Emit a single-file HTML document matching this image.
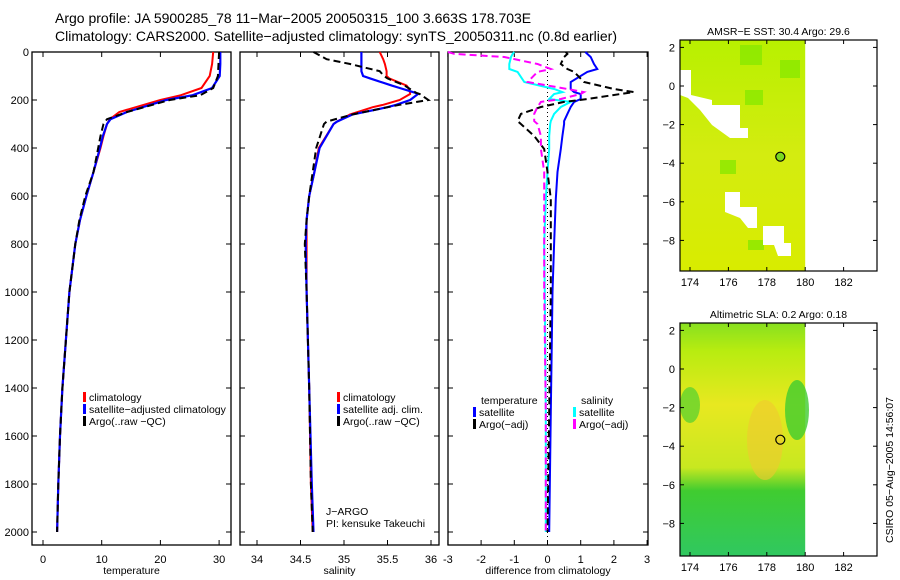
<!DOCTYPE html>
<html><head><meta charset="utf-8"><style>
html,body{margin:0;padding:0;background:#fff;}
svg{display:block;font-family:"Liberation Sans","DejaVu Sans",sans-serif;}
</style></head><body>
<svg id="fig" width="900" height="580" viewBox="0 0 900 580" xmlns="http://www.w3.org/2000/svg">
<text x="55" y="23" font-size="14">Argo profile: JA 5900285_78 11−Mar−2005 20050315_100 3.663S 178.703E</text>
<text x="55" y="41" font-size="14">Climatology: CARS2000. Satellite−adjusted climatology: synTS_20050311.nc (0.8d earlier)</text>
<g id="plots"></g>
</svg>
<script>
// ---- data ----
const depthTicks=[0,200,400,600,800,1000,1200,1400,1600,1800,2000];
const tempTicks=[0,10,20,30];
const salTicks=[34,34.5,35,35.5,36];
const salTickLabels=["34","34.5","35","35.5","36"];
const diffTicks=[-3,-2,-1,0,1,2,3];
const tDepth=[0,50,100,150,180,200,250,280,300,350,400,500,600,700,800,1000,1200,1400,1600,1800,2000];
const tClim=[29.0,28.8,28.4,27.0,23.5,20.0,13.0,11.4,10.9,10.3,9.8,8.6,7.4,6.3,5.5,4.5,3.9,3.3,2.9,2.6,2.4];
const tSat=[30.2,30.2,30.1,28.8,25.5,21.0,14.3,11.5,10.9,10.2,9.7,8.6,7.4,6.3,5.5,4.5,3.9,3.3,2.9,2.6,2.4];
const tArgo=[30.0,29.9,29.8,29.0,26.8,21.6,14.3,10.9,10.3,9.8,9.4,8.6,7.2,6.2,5.5,4.5,3.9,3.3,2.9,2.6,2.4];
const sDepth=[0,30,50,80,100,110,140,150,170,175,200,220,230,260,290,300,400,500,600,700,800,1000,1400,1800,2000];
const sClim=[35.41,35.45,35.47,35.49,35.49,35.52,35.72,35.74,35.76,35.76,35.64,35.45,35.33,35.07,34.92,34.88,34.71,34.66,34.6,34.57,34.57,34.57,34.6,34.62,34.64];
const sSat=[35.2,35.2,35.2,35.2,35.22,35.3,35.55,35.64,35.82,35.85,35.76,35.6,35.5,35.1,34.92,34.88,34.72,34.66,34.6,34.57,34.56,34.57,34.6,34.63,34.65];
const sArgo=[34.65,34.8,35.07,35.41,35.46,35.5,35.7,35.74,35.83,35.87,35.97,35.64,35.5,35.1,34.8,34.77,34.68,34.64,34.6,34.57,34.55,34.57,34.6,34.62,34.64];
const dDepth=[0,8,21,50,71,83,125,154,167,175,196,208,229,258,288,300,350,404,500,612,800,1000,1500,2000];
const dTempSat=[1.14,1.2,1.3,1.4,1.5,1.2,0.7,0.7,0.8,1.0,1.0,0.8,0.7,0.6,0.5,0.5,0.45,0.4,0.3,0.25,0.2,0.15,0.1,0.05];
const dTempArgo=[0.55,0.6,0.5,0.4,0.6,0.8,1.1,2.0,2.6,2.2,1.2,0.5,-0.2,-0.8,-0.9,-0.8,-0.4,-0.1,0.0,0.1,0.1,0.1,0.05,0.0];
const dSalSat=[-1.0,-1.05,-1.1,-1.15,-1.15,-0.9,-0.7,0.2,0.45,0.2,0.05,0.7,0.4,0.2,0.1,0.08,0.05,0.05,0.0,-0.05,-0.1,-0.08,-0.05,-0.05];
const dSalArgo=[-3.0,-2.8,-1.3,-0.3,0.1,-0.3,-0.6,0.6,1.1,1.0,0.4,-0.2,-0.3,-0.4,-0.4,-0.3,-0.2,-0.2,-0.1,-0.1,-0.1,-0.1,-0.05,-0.05];
const mapXTicks=[174,176,178,180,182];
const mapYTicks=[2,0,-2,-4,-6,-8];
const argoLon=178.703, argoLat=-3.663;

const NS="http://www.w3.org/2000/svg";
const root=document.getElementById('plots');
function el(tag,attrs,parent){const e=document.createElementNS(NS,tag);for(const k in attrs)e.setAttribute(k,attrs[k]);(parent||root).appendChild(e);return e;}
function txt(x,y,s,size,anchor,parent){const t=el('text',{x:x,y:y,'font-size':size,'text-anchor':anchor||'start'},parent);t.textContent=s;return t;}

const Y0=52, YS=0.24, BOTTOM=545;
const yD=d=>Y0+d*YS;

function panel(name,x0,x1,xf,xt,xl,xlabel,showDepth){
  const g=el('g',{});
  
  
  el('rect',{x:x0,y:Y0,width:x1-x0,height:BOTTOM-Y0,fill:'none',stroke:'#000','stroke-width':1.3},g);
  xt.forEach((v,i)=>{const x=xf(v);
    el('line',{x1:x,x2:x,y1:BOTTOM,y2:BOTTOM-5,stroke:'#000'},g);
    el('line',{x1:x,x2:x,y1:Y0,y2:Y0+5,stroke:'#000'},g);
    const t=txt(x,563,xl[i],11,'middle',g);
    
    });
  depthTicks.forEach(d=>{const y=yD(d);
    el('line',{x1:x0,x2:x0+5,y1:y,y2:y,stroke:'#000'},g);
    el('line',{x1:x1,x2:x1-5,y1:y,y2:y,stroke:'#000'},g);
    if(showDepth){const t=txt(x0-3,y+4,String(d),11,'end',g);
      
      }});
  const xlab=txt((x0+x1)/2,574,xlabel,10.5,'middle',g);
  
  
  return g;
}
function line(g,xs,ds,xf,color,dash,w,name){
  const pts=xs.map((v,i)=>xf(v).toFixed(1)+','+yD(ds[i]).toFixed(1)).join(' ');
  const p=el('polyline',{points:pts,fill:'none',stroke:color,'stroke-width':w||2},g);
  if(dash)p.setAttribute('stroke-dasharray',dash);
  
  
}
function legend(g,x,y,items){
  items.forEach((it,i)=>{
    el('rect',{x:x,y:y+i*12-9,width:3,height:10,fill:it[1]},g);
    const t=txt(x+6,y+i*12,it[0],10.5,'start',g);
    
    
  });
}
// Panel 1 temperature
const xT=v=>43+5.87*v;
const g1=panel('temperature-panel',32,231,xT,tempTicks,tempTicks.map(String),'temperature',true);
line(g1,tClim,tDepth,xT,'#f00',null,2,'temp-climatology-line');
line(g1,tSat,tDepth,xT,'#00f',null,2.2,'temp-satellite-line');
line(g1,tArgo,tDepth,xT,'#000','7,4',2,'temp-argo-line');
legend(g1,83,401,[['climatology','#f00'],['satellite−adjusted climatology','#00f'],['Argo(..raw −QC)','#000']]);
// Panel 2 salinity
const xS=v=>257+87*(v-34);
const g2=panel('salinity-panel',240,439,xS,salTicks,salTickLabels,'salinity',false);
line(g2,sClim,sDepth,xS,'#f00',null,2,'sal-climatology-line');
line(g2,sSat,sDepth,xS,'#00f',null,2.2,'sal-satellite-line');
line(g2,sArgo,sDepth,xS,'#000','7,4',2,'sal-argo-line');
legend(g2,337,401,[['climatology','#f00'],['satellite adj. clim.','#00f'],['Argo(..raw −QC)','#000']]);
const j1=txt(326,515,'J−ARGO',10.5,'start',g2);


const j2=txt(326,527,'PI: kensuke Takeuchi',10.5,'start',g2);


// Panel 3 difference
const xDf=v=>547.5+33.2*v;
const g3=panel('difference-panel',448,648,xDf,diffTicks,diffTicks.map(String),'difference from climatology',false);
el('line',{x1:xDf(0),x2:xDf(0),y1:Y0,y2:BOTTOM,stroke:'#000','stroke-dasharray':'1,3'},g3);
line(g3,dTempSat,dDepth,xDf,'#00f',null,2,'diff-temp-satellite-line');
line(g3,dSalSat,dDepth,xDf,'#0ff',null,2,'diff-sal-satellite-line');
line(g3,dTempArgo,dDepth,xDf,'#000','7,4',2,'diff-temp-argo-line');
line(g3,dSalArgo,dDepth,xDf,'#f0f','7,4',2,'diff-sal-argo-line');
const lt=txt(481,404,'temperature',10.5,'start',g3);
legend(g3,473,416,[['satellite','#00f'],['Argo(−adj)','#000']]);
const ls=txt(581,404,'salinity',10.5,'start',g3);
legend(g3,573,416,[['satellite','#0ff'],['Argo(−adj)','#f0f']]);

// Maps
function map(name,top,bottom,title,lat2y,kind){
  const g=el('g',{});
  
  
  const L=680,R=877;
  const lon2x=v=>690+19.2*(v-174);
  const xr=lon2x(180);
  if(kind==='sst'){
    const gr=el('linearGradient',{id:'sstg',x1:0,y1:0,x2:0,y2:1},g);
    el('stop',{offset:0,'stop-color':'#b8f000'},gr);el('stop',{offset:0.5,'stop-color':'#d4ec10'},gr);el('stop',{offset:1,'stop-color':'#d8ec00'},gr);
    el('rect',{x:L,y:top,width:xr-L,height:bottom-top,fill:'url(#sstg)'},g);
    [[740,45,22,20],[745,90,18,15],[780,60,20,18],[720,160,16,14],[748,240,16,10]].forEach(r=>el('rect',{x:r[0],y:r[1],width:r[2],height:r[3],fill:'#88e800',opacity:0.8},g));
    el('path',{d:'M680,70 L691,70 L691,95 L712,100 L712,105 L740,105 L740,128 L748,128 L748,138 L730,138 L712,125 L700,110 L688,98 L680,95 Z',fill:'#fff'},g);
    el('path',{d:'M725,192 L740,192 L740,207 L757,207 L757,228 L748,228 L740,218 L725,212 Z',fill:'#fff'},g);
    el('path',{d:'M763,226 L784,226 L784,243 L791,243 L791,256 L778,256 L774,245 L763,245 Z',fill:'#fff'},g);
  } else {
    const gr=el('linearGradient',{id:'slag',x1:0,y1:0,x2:0,y2:1},g);
    el('stop',{offset:0,'stop-color':'#88e020'},gr);el('stop',{offset:0.12,'stop-color':'#b8ec10'},gr);
    el('stop',{offset:0.35,'stop-color':'#e8e820'},gr);el('stop',{offset:0.62,'stop-color':'#c8e820'},gr);
    el('stop',{offset:0.72,'stop-color':'#40cc30'},gr);el('stop',{offset:1,'stop-color':'#30c860'},gr);
    el('rect',{x:L,y:top,width:xr-L,height:bottom-top,fill:'url(#slag)'},g);
    el('ellipse',{cx:765,cy:440,rx:18,ry:40,fill:'#f0c830',opacity:0.6},g);
    el('ellipse',{cx:797,cy:410,rx:12,ry:30,fill:'#40cc30',opacity:0.8},g);
    el('ellipse',{cx:690,cy:405,rx:10,ry:18,fill:'#50d030',opacity:0.7},g);
  }
  el('rect',{x:L,y:top,width:R-L,height:bottom-top,fill:'none',stroke:'#000','stroke-width':1.2},g);
  mapXTicks.forEach(v=>{const x=lon2x(v);
    el('line',{x1:x,x2:x,y1:bottom,y2:bottom-4,stroke:'#000'},g);
    el('line',{x1:x,x2:x,y1:top,y2:top+4,stroke:'#000'},g);
    const t=txt(x,bottom+15,String(v),11,'middle',g);
    
    });
  mapYTicks.forEach(v=>{const y=lat2y(v);
    if(y<top||y>bottom)return;
    el('line',{x1:L,x2:L+4,y1:y,y2:y,stroke:'#000'},g);
    el('line',{x1:R,x2:R-4,y1:y,y2:y,stroke:'#000'},g);
    const t=txt(L-5,y+4,v<0?'−'+(-v):String(v),11,'end',g);
    
    });
  const c=el('circle',{cx:lon2x(argoLon),cy:lat2y(argoLat),r:4.5,fill:kind==='sst'?'#7ad820':'none',stroke:'#000','stroke-width':1.2},g);
  
  
  const tt=txt((L+R)/2,top-5,title,10.5,'middle',g);
  
  
}
map('sst-map',40,271,'AMSR−E SST: 30.4 Argo: 29.6',v=>86-19.3*v,'sst');
map('sla-map',323,556,'Altimetric SLA: 0.2 Argo: 0.18',v=>369-19.3*v,'sla');
const cs=txt(0,0,'CSIRO 05−Aug−2005 14:56:07',10.5,'middle');
cs.setAttribute('transform','translate(893,470) rotate(-90)');


</script>
</body></html>
